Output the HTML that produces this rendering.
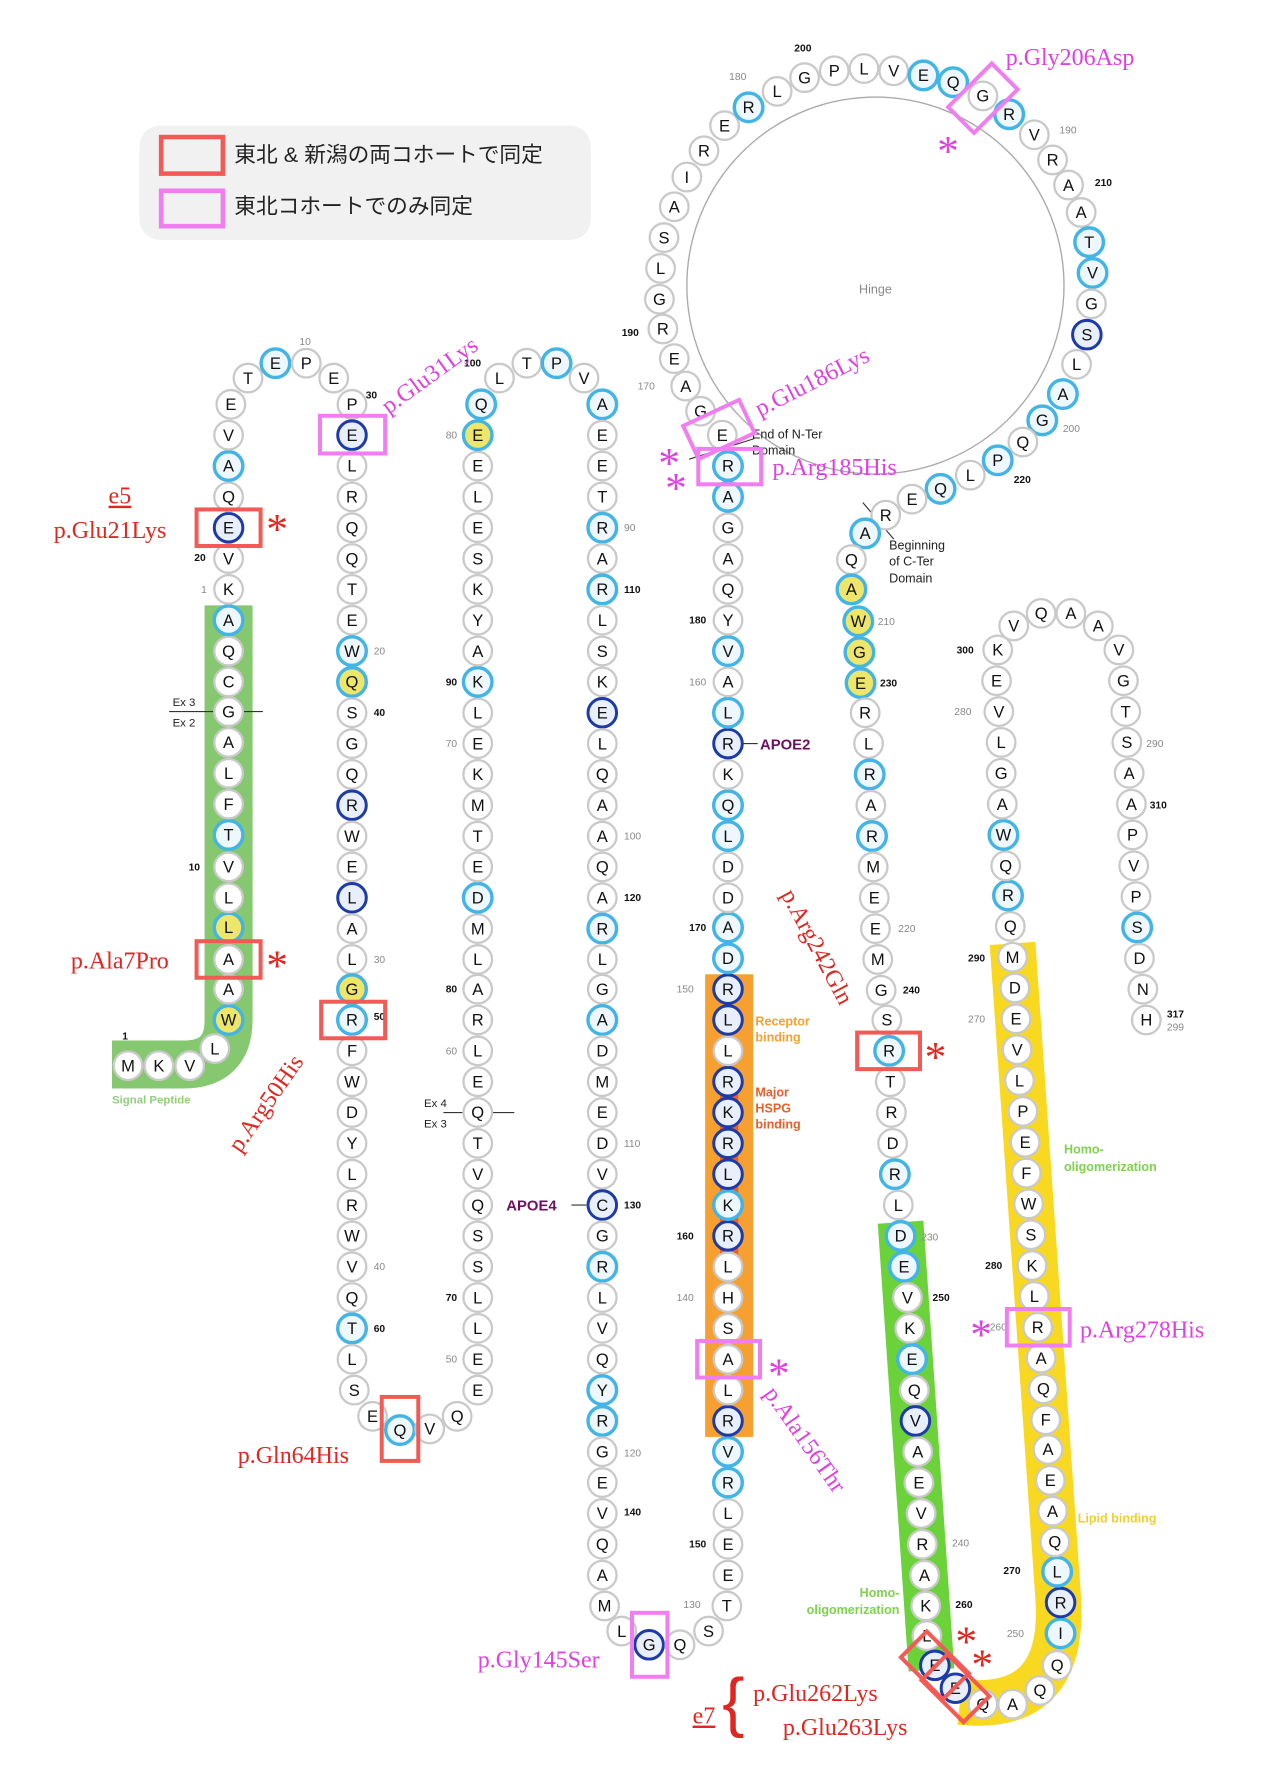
<!DOCTYPE html>
<html><head><meta charset="utf-8">
<style>
html,body{margin:0;padding:0;background:#fff;}
svg{display:block;}
g.r circle{r:12.5px;}
.w circle{fill:#fff;stroke:#c9c9c9;stroke-width:2;}
.b circle{fill:#eef8fc;stroke:#43b4e6;stroke-width:3;}
.d circle{fill:#e8eefa;stroke:#1c3aa8;stroke-width:2.6;}
.y circle{fill:#eee66a;stroke:#43b4e6;stroke-width:3;}
g text{font-family:"Liberation Sans",sans-serif;font-size:14.5px;text-anchor:middle;fill:#111;}
.n{font-family:"Liberation Sans",sans-serif;font-size:9px;fill:#888;}
.nb{font-family:"Liberation Sans",sans-serif;font-size:9px;fill:#111;font-weight:bold;}
.red{font-family:"Liberation Serif",serif;font-size:21px;fill:#e0261e;}
.pink{font-family:"Liberation Serif",serif;font-size:21px;fill:#e040e0;}
.sm{font-family:"Liberation Sans",sans-serif;font-size:11px;fill:#222;}
</style></head><body>
<svg width="1280" height="1791" viewBox="0 0 1120 1568" preserveAspectRatio="none" xmlns="http://www.w3.org/2000/svg">
<rect width="1141" height="1597" fill="#fff"/>
<!-- legend -->
<rect x="122" y="110" width="395" height="100" rx="18" fill="#f1f1f1"/>
<rect x="141" y="120" width="54" height="32" fill="none" stroke="#f25a55" stroke-width="4"/>
<rect x="141" y="167" width="54" height="31" fill="none" stroke="#f07ef0" stroke-width="4"/>
<text x="205" y="142" style="font-family:'Liberation Sans','Noto Sans CJK JP',sans-serif;font-size:19px;fill:#222">東北 &amp; 新潟の両コホートで同定</text>
<text x="205" y="187" style="font-family:'Liberation Sans','Noto Sans CJK JP',sans-serif;font-size:19px;fill:#222">東北コホートでのみ同定</text>
<!-- hinge -->
<circle cx="766" cy="250" r="165" fill="none" stroke="#aaa" stroke-width="1.2"/>
<text x="766" y="257" class="n" style="font-size:11px;text-anchor:middle">Hinge</text>
<!-- bands -->
<path d="M200,530 L200,893 Q200,932 160,932 L98,932" fill="none" stroke="#86c870" stroke-width="42"/>
<rect x="617" y="853" width="42" height="405" fill="#f5a030"/>
<rect x="630" y="940" width="16" height="180" fill="#e8602a"/>
<path d="M788,1070 L815,1462" fill="none" stroke="#6cd23a" stroke-width="40"/>
<path d="M886,826 L926,1400 Q932,1500 840,1490" fill="none" stroke="#f8d820" stroke-width="40"/>
<!-- lines -->
<line x1="148" y1="623" x2="230" y2="623" stroke="#333" stroke-width="1"/>
<line x1="388" y1="974" x2="450" y2="974" stroke="#333" stroke-width="1"/>
<line x1="650" y1="651" x2="663" y2="651" stroke="#333"/>
<line x1="513" y1="1055" x2="500" y2="1055" stroke="#333"/>
<line x1="603" y1="402" x2="660" y2="384" stroke="#333"/>
<line x1="755" y1="440" x2="782" y2="472" stroke="#333"/>
<!-- residues -->
<g class="r w" transform="translate(112,933)"><circle/><text y="5">M</text></g>
<g class="r w" transform="translate(139,933)"><circle/><text y="5">K</text></g>
<g class="r w" transform="translate(166,933)"><circle/><text y="5">V</text></g>
<g class="r w" transform="translate(188,918)"><circle/><text y="5">L</text></g>
<g class="r y" transform="translate(200,893)"><circle/><text y="5">W</text></g>
<g class="r w" transform="translate(200,866)"><circle/><text y="5">A</text></g>
<g class="r w" transform="translate(200,840)"><circle/><text y="5">A</text></g>
<g class="r y" transform="translate(200,812)"><circle/><text y="5">L</text></g>
<g class="r w" transform="translate(200,786)"><circle/><text y="5">L</text></g>
<g class="r w" transform="translate(200,759)"><circle/><text y="5">V</text></g>
<g class="r b" transform="translate(200,731)"><circle/><text y="5">T</text></g>
<g class="r w" transform="translate(200,704)"><circle/><text y="5">F</text></g>
<g class="r w" transform="translate(200,677)"><circle/><text y="5">L</text></g>
<g class="r w" transform="translate(200,650)"><circle/><text y="5">A</text></g>
<g class="r w" transform="translate(200,623)"><circle/><text y="5">G</text></g>
<g class="r w" transform="translate(200,597)"><circle/><text y="5">C</text></g>
<g class="r w" transform="translate(200,570)"><circle/><text y="5">Q</text></g>
<g class="r b" transform="translate(200,543)"><circle/><text y="5">A</text></g>
<g class="r w" transform="translate(200,516)"><circle/><text y="5">K</text></g>
<g class="r w" transform="translate(200,489)"><circle/><text y="5">V</text></g>
<g class="r d" transform="translate(200,462)"><circle/><text y="5">E</text></g>
<g class="r w" transform="translate(200,435)"><circle/><text y="5">Q</text></g>
<g class="r b" transform="translate(200,408)"><circle/><text y="5">A</text></g>
<g class="r w" transform="translate(200,381)"><circle/><text y="5">V</text></g>
<g class="r w" transform="translate(202,354)"><circle/><text y="5">E</text></g>
<g class="r w" transform="translate(217,331)"><circle/><text y="5">T</text></g>
<g class="r b" transform="translate(241,318)"><circle/><text y="5">E</text></g>
<g class="r w" transform="translate(268,318)"><circle/><text y="5">P</text></g>
<g class="r w" transform="translate(292,331)"><circle/><text y="5">E</text></g>
<g class="r w" transform="translate(308,354)"><circle/><text y="5">P</text></g>
<g class="r d" transform="translate(308,381)"><circle/><text y="5">E</text></g>
<g class="r w" transform="translate(308,408)"><circle/><text y="5">L</text></g>
<g class="r w" transform="translate(308,435)"><circle/><text y="5">R</text></g>
<g class="r w" transform="translate(308,462)"><circle/><text y="5">Q</text></g>
<g class="r w" transform="translate(308,489)"><circle/><text y="5">Q</text></g>
<g class="r w" transform="translate(308,516)"><circle/><text y="5">T</text></g>
<g class="r w" transform="translate(308,543)"><circle/><text y="5">E</text></g>
<g class="r b" transform="translate(308,570)"><circle/><text y="5">W</text></g>
<g class="r y" transform="translate(308,597)"><circle/><text y="5">Q</text></g>
<g class="r w" transform="translate(308,624)"><circle/><text y="5">S</text></g>
<g class="r w" transform="translate(308,651)"><circle/><text y="5">G</text></g>
<g class="r w" transform="translate(308,678)"><circle/><text y="5">Q</text></g>
<g class="r d" transform="translate(308,705)"><circle/><text y="5">R</text></g>
<g class="r w" transform="translate(308,732)"><circle/><text y="5">W</text></g>
<g class="r w" transform="translate(308,759)"><circle/><text y="5">E</text></g>
<g class="r d" transform="translate(308,786)"><circle/><text y="5">L</text></g>
<g class="r w" transform="translate(308,813)"><circle/><text y="5">A</text></g>
<g class="r w" transform="translate(308,840)"><circle/><text y="5">L</text></g>
<g class="r y" transform="translate(308,866)"><circle/><text y="5">G</text></g>
<g class="r b" transform="translate(308,893)"><circle/><text y="5">R</text></g>
<g class="r w" transform="translate(308,920)"><circle/><text y="5">F</text></g>
<g class="r w" transform="translate(308,947)"><circle/><text y="5">W</text></g>
<g class="r w" transform="translate(308,974)"><circle/><text y="5">D</text></g>
<g class="r w" transform="translate(308,1001)"><circle/><text y="5">Y</text></g>
<g class="r w" transform="translate(308,1028)"><circle/><text y="5">L</text></g>
<g class="r w" transform="translate(308,1055)"><circle/><text y="5">R</text></g>
<g class="r w" transform="translate(308,1082)"><circle/><text y="5">W</text></g>
<g class="r w" transform="translate(308,1109)"><circle/><text y="5">V</text></g>
<g class="r w" transform="translate(308,1136)"><circle/><text y="5">Q</text></g>
<g class="r b" transform="translate(308,1163)"><circle/><text y="5">T</text></g>
<g class="r w" transform="translate(308,1190)"><circle/><text y="5">L</text></g>
<g class="r w" transform="translate(310,1217)"><circle/><text y="5">S</text></g>
<g class="r w" transform="translate(326,1240)"><circle/><text y="5">E</text></g>
<g class="r b" transform="translate(350,1252)"><circle/><text y="5">Q</text></g>
<g class="r w" transform="translate(376,1251)"><circle/><text y="5">V</text></g>
<g class="r w" transform="translate(400,1240)"><circle/><text y="5">Q</text></g>
<g class="r w" transform="translate(418,1217)"><circle/><text y="5">E</text></g>
<g class="r w" transform="translate(418,1190)"><circle/><text y="5">E</text></g>
<g class="r w" transform="translate(418,1163)"><circle/><text y="5">L</text></g>
<g class="r w" transform="translate(418,1136)"><circle/><text y="5">L</text></g>
<g class="r w" transform="translate(418,1109)"><circle/><text y="5">S</text></g>
<g class="r w" transform="translate(418,1082)"><circle/><text y="5">S</text></g>
<g class="r w" transform="translate(418,1055)"><circle/><text y="5">Q</text></g>
<g class="r w" transform="translate(418,1028)"><circle/><text y="5">V</text></g>
<g class="r w" transform="translate(418,1001)"><circle/><text y="5">T</text></g>
<g class="r w" transform="translate(418,974)"><circle/><text y="5">Q</text></g>
<g class="r w" transform="translate(418,947)"><circle/><text y="5">E</text></g>
<g class="r w" transform="translate(418,920)"><circle/><text y="5">L</text></g>
<g class="r w" transform="translate(418,893)"><circle/><text y="5">R</text></g>
<g class="r w" transform="translate(418,866)"><circle/><text y="5">A</text></g>
<g class="r w" transform="translate(418,840)"><circle/><text y="5">L</text></g>
<g class="r w" transform="translate(418,813)"><circle/><text y="5">M</text></g>
<g class="r b" transform="translate(418,786)"><circle/><text y="5">D</text></g>
<g class="r w" transform="translate(418,759)"><circle/><text y="5">E</text></g>
<g class="r w" transform="translate(418,732)"><circle/><text y="5">T</text></g>
<g class="r w" transform="translate(418,705)"><circle/><text y="5">M</text></g>
<g class="r w" transform="translate(418,678)"><circle/><text y="5">K</text></g>
<g class="r w" transform="translate(418,651)"><circle/><text y="5">E</text></g>
<g class="r w" transform="translate(418,624)"><circle/><text y="5">L</text></g>
<g class="r b" transform="translate(418,597)"><circle/><text y="5">K</text></g>
<g class="r w" transform="translate(418,570)"><circle/><text y="5">A</text></g>
<g class="r w" transform="translate(418,543)"><circle/><text y="5">Y</text></g>
<g class="r w" transform="translate(418,516)"><circle/><text y="5">K</text></g>
<g class="r w" transform="translate(418,489)"><circle/><text y="5">S</text></g>
<g class="r w" transform="translate(418,462)"><circle/><text y="5">E</text></g>
<g class="r w" transform="translate(418,435)"><circle/><text y="5">L</text></g>
<g class="r w" transform="translate(418,408)"><circle/><text y="5">E</text></g>
<g class="r y" transform="translate(418,381)"><circle/><text y="5">E</text></g>
<g class="r b" transform="translate(421,354)"><circle/><text y="5">Q</text></g>
<g class="r w" transform="translate(437,331)"><circle/><text y="5">L</text></g>
<g class="r w" transform="translate(461,318)"><circle/><text y="5">T</text></g>
<g class="r b" transform="translate(487,318)"><circle/><text y="5">P</text></g>
<g class="r w" transform="translate(511,331)"><circle/><text y="5">V</text></g>
<g class="r b" transform="translate(527,354)"><circle/><text y="5">A</text></g>
<g class="r w" transform="translate(527,381)"><circle/><text y="5">E</text></g>
<g class="r w" transform="translate(527,408)"><circle/><text y="5">E</text></g>
<g class="r w" transform="translate(527,435)"><circle/><text y="5">T</text></g>
<g class="r b" transform="translate(527,462)"><circle/><text y="5">R</text></g>
<g class="r w" transform="translate(527,489)"><circle/><text y="5">A</text></g>
<g class="r b" transform="translate(527,516)"><circle/><text y="5">R</text></g>
<g class="r w" transform="translate(527,543)"><circle/><text y="5">L</text></g>
<g class="r w" transform="translate(527,570)"><circle/><text y="5">S</text></g>
<g class="r w" transform="translate(527,597)"><circle/><text y="5">K</text></g>
<g class="r d" transform="translate(527,624)"><circle/><text y="5">E</text></g>
<g class="r w" transform="translate(527,651)"><circle/><text y="5">L</text></g>
<g class="r w" transform="translate(527,678)"><circle/><text y="5">Q</text></g>
<g class="r w" transform="translate(527,705)"><circle/><text y="5">A</text></g>
<g class="r w" transform="translate(527,732)"><circle/><text y="5">A</text></g>
<g class="r w" transform="translate(527,759)"><circle/><text y="5">Q</text></g>
<g class="r w" transform="translate(527,786)"><circle/><text y="5">A</text></g>
<g class="r b" transform="translate(527,813)"><circle/><text y="5">R</text></g>
<g class="r w" transform="translate(527,840)"><circle/><text y="5">L</text></g>
<g class="r w" transform="translate(527,866)"><circle/><text y="5">G</text></g>
<g class="r b" transform="translate(527,893)"><circle/><text y="5">A</text></g>
<g class="r w" transform="translate(527,920)"><circle/><text y="5">D</text></g>
<g class="r w" transform="translate(527,947)"><circle/><text y="5">M</text></g>
<g class="r w" transform="translate(527,974)"><circle/><text y="5">E</text></g>
<g class="r w" transform="translate(527,1001)"><circle/><text y="5">D</text></g>
<g class="r w" transform="translate(527,1028)"><circle/><text y="5">V</text></g>
<g class="r d" transform="translate(527,1055)"><circle/><text y="5">C</text></g>
<g class="r w" transform="translate(527,1082)"><circle/><text y="5">G</text></g>
<g class="r b" transform="translate(527,1109)"><circle/><text y="5">R</text></g>
<g class="r w" transform="translate(527,1136)"><circle/><text y="5">L</text></g>
<g class="r w" transform="translate(527,1163)"><circle/><text y="5">V</text></g>
<g class="r w" transform="translate(527,1190)"><circle/><text y="5">Q</text></g>
<g class="r b" transform="translate(527,1217)"><circle/><text y="5">Y</text></g>
<g class="r b" transform="translate(527,1244)"><circle/><text y="5">R</text></g>
<g class="r w" transform="translate(527,1271)"><circle/><text y="5">G</text></g>
<g class="r w" transform="translate(527,1298)"><circle/><text y="5">E</text></g>
<g class="r w" transform="translate(527,1325)"><circle/><text y="5">V</text></g>
<g class="r w" transform="translate(527,1352)"><circle/><text y="5">Q</text></g>
<g class="r w" transform="translate(527,1379)"><circle/><text y="5">A</text></g>
<g class="r w" transform="translate(529,1406)"><circle/><text y="5">M</text></g>
<g class="r w" transform="translate(544,1428)"><circle/><text y="5">L</text></g>
<g class="r d" transform="translate(568,1440)"><circle/><text y="5">G</text></g>
<g class="r w" transform="translate(595,1440)"><circle/><text y="5">Q</text></g>
<g class="r w" transform="translate(620,1428)"><circle/><text y="5">S</text></g>
<g class="r w" transform="translate(636,1406)"><circle/><text y="5">T</text></g>
<g class="r w" transform="translate(637,1379)"><circle/><text y="5">E</text></g>
<g class="r w" transform="translate(637,1352)"><circle/><text y="5">E</text></g>
<g class="r w" transform="translate(637,1325)"><circle/><text y="5">L</text></g>
<g class="r b" transform="translate(637,1298)"><circle/><text y="5">R</text></g>
<g class="r b" transform="translate(637,1271)"><circle/><text y="5">V</text></g>
<g class="r d" transform="translate(637,1244)"><circle/><text y="5">R</text></g>
<g class="r w" transform="translate(637,1217)"><circle/><text y="5">L</text></g>
<g class="r w" transform="translate(637,1190)"><circle/><text y="5">A</text></g>
<g class="r w" transform="translate(637,1163)"><circle/><text y="5">S</text></g>
<g class="r w" transform="translate(637,1136)"><circle/><text y="5">H</text></g>
<g class="r w" transform="translate(637,1109)"><circle/><text y="5">L</text></g>
<g class="r d" transform="translate(637,1082)"><circle/><text y="5">R</text></g>
<g class="r b" transform="translate(637,1055)"><circle/><text y="5">K</text></g>
<g class="r d" transform="translate(637,1028)"><circle/><text y="5">L</text></g>
<g class="r d" transform="translate(637,1001)"><circle/><text y="5">R</text></g>
<g class="r d" transform="translate(637,974)"><circle/><text y="5">K</text></g>
<g class="r d" transform="translate(637,947)"><circle/><text y="5">R</text></g>
<g class="r w" transform="translate(637,920)"><circle/><text y="5">L</text></g>
<g class="r d" transform="translate(637,893)"><circle/><text y="5">L</text></g>
<g class="r d" transform="translate(637,866)"><circle/><text y="5">R</text></g>
<g class="r b" transform="translate(637,839)"><circle/><text y="5">D</text></g>
<g class="r b" transform="translate(637,812)"><circle/><text y="5">A</text></g>
<g class="r w" transform="translate(637,786)"><circle/><text y="5">D</text></g>
<g class="r w" transform="translate(637,759)"><circle/><text y="5">D</text></g>
<g class="r b" transform="translate(637,732)"><circle/><text y="5">L</text></g>
<g class="r b" transform="translate(637,705)"><circle/><text y="5">Q</text></g>
<g class="r w" transform="translate(637,678)"><circle/><text y="5">K</text></g>
<g class="r d" transform="translate(637,651)"><circle/><text y="5">R</text></g>
<g class="r b" transform="translate(637,624)"><circle/><text y="5">L</text></g>
<g class="r w" transform="translate(637,597)"><circle/><text y="5">A</text></g>
<g class="r b" transform="translate(637,570)"><circle/><text y="5">V</text></g>
<g class="r w" transform="translate(637,543)"><circle/><text y="5">Y</text></g>
<g class="r w" transform="translate(637,516)"><circle/><text y="5">Q</text></g>
<g class="r w" transform="translate(637,489)"><circle/><text y="5">A</text></g>
<g class="r w" transform="translate(637,462)"><circle/><text y="5">G</text></g>
<g class="r b" transform="translate(637,435)"><circle/><text y="5">A</text></g>
<g class="r b" transform="translate(637,408)"><circle/><text y="5">R</text></g>
<g class="r w" transform="translate(632,381)"><circle/><text y="5">E</text></g>
<g class="r w" transform="translate(613,360)"><circle/><text y="5">G</text></g>
<g class="r w" transform="translate(600,338)"><circle/><text y="5">A</text></g>
<g class="r w" transform="translate(590,314)"><circle/><text y="5">E</text></g>
<g class="r w" transform="translate(580,288)"><circle/><text y="5">R</text></g>
<g class="r w" transform="translate(577,262)"><circle/><text y="5">G</text></g>
<g class="r w" transform="translate(578,235)"><circle/><text y="5">L</text></g>
<g class="r w" transform="translate(581,208)"><circle/><text y="5">S</text></g>
<g class="r w" transform="translate(590,181)"><circle/><text y="5">A</text></g>
<g class="r w" transform="translate(601,155)"><circle/><text y="5">I</text></g>
<g class="r w" transform="translate(616,132)"><circle/><text y="5">R</text></g>
<g class="r w" transform="translate(634,110)"><circle/><text y="5">E</text></g>
<g class="r b" transform="translate(655,94)"><circle/><text y="5">R</text></g>
<g class="r w" transform="translate(680,80)"><circle/><text y="5">L</text></g>
<g class="r w" transform="translate(704,68)"><circle/><text y="5">G</text></g>
<g class="r w" transform="translate(730,62)"><circle/><text y="5">P</text></g>
<g class="r w" transform="translate(756,60)"><circle/><text y="5">L</text></g>
<g class="r w" transform="translate(782,62)"><circle/><text y="5">V</text></g>
<g class="r b" transform="translate(808,66)"><circle/><text y="5">E</text></g>
<g class="r b" transform="translate(834,72)"><circle/><text y="5">Q</text></g>
<g class="r w" transform="translate(860,84)"><circle/><text y="5">G</text></g>
<g class="r b" transform="translate(883,100)"><circle/><text y="5">R</text></g>
<g class="r w" transform="translate(905,118)"><circle/><text y="5">V</text></g>
<g class="r w" transform="translate(921,140)"><circle/><text y="5">R</text></g>
<g class="r w" transform="translate(935,162)"><circle/><text y="5">A</text></g>
<g class="r w" transform="translate(946,186)"><circle/><text y="5">A</text></g>
<g class="r b" transform="translate(953,212)"><circle/><text y="5">T</text></g>
<g class="r b" transform="translate(956,239)"><circle/><text y="5">V</text></g>
<g class="r w" transform="translate(955,266)"><circle/><text y="5">G</text></g>
<g class="r d" transform="translate(951,293)"><circle/><text y="5">S</text></g>
<g class="r w" transform="translate(942,319)"><circle/><text y="5">L</text></g>
<g class="r b" transform="translate(930,345)"><circle/><text y="5">A</text></g>
<g class="r b" transform="translate(912,368)"><circle/><text y="5">G</text></g>
<g class="r w" transform="translate(895,387)"><circle/><text y="5">Q</text></g>
<g class="r b" transform="translate(873,403)"><circle/><text y="5">P</text></g>
<g class="r w" transform="translate(849,416)"><circle/><text y="5">L</text></g>
<g class="r b" transform="translate(823,428)"><circle/><text y="5">Q</text></g>
<g class="r w" transform="translate(798,437)"><circle/><text y="5">E</text></g>
<g class="r w" transform="translate(775,451)"><circle/><text y="5">R</text></g>
<g class="r b" transform="translate(757,467)"><circle/><text y="5">A</text></g>
<g class="r w" transform="translate(745,490)"><circle/><text y="5">Q</text></g>
<g class="r y" transform="translate(745,516)"><circle/><text y="5">A</text></g>
<g class="r y" transform="translate(751,544)"><circle/><text y="5">W</text></g>
<g class="r y" transform="translate(752,571)"><circle/><text y="5">G</text></g>
<g class="r y" transform="translate(753,598)"><circle/><text y="5">E</text></g>
<g class="r w" transform="translate(757,624)"><circle/><text y="5">R</text></g>
<g class="r w" transform="translate(760,651)"><circle/><text y="5">L</text></g>
<g class="r b" transform="translate(761,678)"><circle/><text y="5">R</text></g>
<g class="r w" transform="translate(762,705)"><circle/><text y="5">A</text></g>
<g class="r b" transform="translate(763,732)"><circle/><text y="5">R</text></g>
<g class="r w" transform="translate(764,759)"><circle/><text y="5">M</text></g>
<g class="r w" transform="translate(765,786)"><circle/><text y="5">E</text></g>
<g class="r w" transform="translate(766,813)"><circle/><text y="5">E</text></g>
<g class="r w" transform="translate(768,840)"><circle/><text y="5">M</text></g>
<g class="r w" transform="translate(771,867)"><circle/><text y="5">G</text></g>
<g class="r w" transform="translate(776,893)"><circle/><text y="5">S</text></g>
<g class="r b" transform="translate(778,920)"><circle/><text y="5">R</text></g>
<g class="r w" transform="translate(779,947)"><circle/><text y="5">T</text></g>
<g class="r w" transform="translate(780,974)"><circle/><text y="5">R</text></g>
<g class="r w" transform="translate(781,1001)"><circle/><text y="5">D</text></g>
<g class="r b" transform="translate(783,1028)"><circle/><text y="5">R</text></g>
<g class="r w" transform="translate(786,1055)"><circle/><text y="5">L</text></g>
<g class="r b" transform="translate(788,1082)"><circle/><text y="5">D</text></g>
<g class="r b" transform="translate(791,1109)"><circle/><text y="5">E</text></g>
<g class="r w" transform="translate(794,1136)"><circle/><text y="5">V</text></g>
<g class="r w" transform="translate(796,1163)"><circle/><text y="5">K</text></g>
<g class="r b" transform="translate(798,1190)"><circle/><text y="5">E</text></g>
<g class="r w" transform="translate(800,1217)"><circle/><text y="5">Q</text></g>
<g class="r d" transform="translate(801,1244)"><circle/><text y="5">V</text></g>
<g class="r w" transform="translate(803,1271)"><circle/><text y="5">A</text></g>
<g class="r w" transform="translate(804,1298)"><circle/><text y="5">E</text></g>
<g class="r w" transform="translate(806,1325)"><circle/><text y="5">V</text></g>
<g class="r w" transform="translate(807,1352)"><circle/><text y="5">R</text></g>
<g class="r w" transform="translate(809,1379)"><circle/><text y="5">A</text></g>
<g class="r w" transform="translate(810,1406)"><circle/><text y="5">K</text></g>
<g class="r w" transform="translate(811,1432)"><circle/><text y="5">L</text></g>
<g class="r d" transform="translate(818,1458)"><circle/><text y="5">E</text></g>
<g class="r d" transform="translate(836,1478)"><circle/><text y="5">E</text></g>
<g class="r w" transform="translate(860,1492)"><circle/><text y="5">Q</text></g>
<g class="r w" transform="translate(886,1492)"><circle/><text y="5">A</text></g>
<g class="r w" transform="translate(910,1480)"><circle/><text y="5">Q</text></g>
<g class="r w" transform="translate(925,1458)"><circle/><text y="5">Q</text></g>
<g class="r b" transform="translate(928,1430)"><circle/><text y="5">I</text></g>
<g class="r d" transform="translate(928,1403)"><circle/><text y="5">R</text></g>
<g class="r b" transform="translate(925,1376)"><circle/><text y="5">L</text></g>
<g class="r w" transform="translate(923,1350)"><circle/><text y="5">Q</text></g>
<g class="r w" transform="translate(921,1323)"><circle/><text y="5">A</text></g>
<g class="r w" transform="translate(919,1296)"><circle/><text y="5">E</text></g>
<g class="r w" transform="translate(917,1269)"><circle/><text y="5">A</text></g>
<g class="r w" transform="translate(915,1243)"><circle/><text y="5">F</text></g>
<g class="r w" transform="translate(913,1216)"><circle/><text y="5">Q</text></g>
<g class="r w" transform="translate(911,1189)"><circle/><text y="5">A</text></g>
<g class="r w" transform="translate(908,1162)"><circle/><text y="5">R</text></g>
<g class="r w" transform="translate(905,1135)"><circle/><text y="5">L</text></g>
<g class="r w" transform="translate(903,1108)"><circle/><text y="5">K</text></g>
<g class="r w" transform="translate(902,1081)"><circle/><text y="5">S</text></g>
<g class="r w" transform="translate(900,1054)"><circle/><text y="5">W</text></g>
<g class="r w" transform="translate(898,1027)"><circle/><text y="5">F</text></g>
<g class="r w" transform="translate(897,1000)"><circle/><text y="5">E</text></g>
<g class="r w" transform="translate(895,973)"><circle/><text y="5">P</text></g>
<g class="r w" transform="translate(892,946)"><circle/><text y="5">L</text></g>
<g class="r w" transform="translate(890,919)"><circle/><text y="5">V</text></g>
<g class="r w" transform="translate(889,892)"><circle/><text y="5">E</text></g>
<g class="r w" transform="translate(888,865)"><circle/><text y="5">D</text></g>
<g class="r w" transform="translate(886,838)"><circle/><text y="5">M</text></g>
<g class="r w" transform="translate(884,811)"><circle/><text y="5">Q</text></g>
<g class="r b" transform="translate(882,784)"><circle/><text y="5">R</text></g>
<g class="r w" transform="translate(880,758)"><circle/><text y="5">Q</text></g>
<g class="r b" transform="translate(878,731)"><circle/><text y="5">W</text></g>
<g class="r w" transform="translate(877,704)"><circle/><text y="5">A</text></g>
<g class="r w" transform="translate(876,677)"><circle/><text y="5">G</text></g>
<g class="r w" transform="translate(876,650)"><circle/><text y="5">L</text></g>
<g class="r w" transform="translate(874,623)"><circle/><text y="5">V</text></g>
<g class="r w" transform="translate(872,596)"><circle/><text y="5">E</text></g>
<g class="r w" transform="translate(873,569)"><circle/><text y="5">K</text></g>
<g class="r w" transform="translate(887,548)"><circle/><text y="5">V</text></g>
<g class="r w" transform="translate(911,537)"><circle/><text y="5">Q</text></g>
<g class="r w" transform="translate(937,537)"><circle/><text y="5">A</text></g>
<g class="r w" transform="translate(961,548)"><circle/><text y="5">A</text></g>
<g class="r w" transform="translate(979,569)"><circle/><text y="5">V</text></g>
<g class="r w" transform="translate(983,596)"><circle/><text y="5">G</text></g>
<g class="r w" transform="translate(985,623)"><circle/><text y="5">T</text></g>
<g class="r w" transform="translate(986,650)"><circle/><text y="5">S</text></g>
<g class="r w" transform="translate(988,677)"><circle/><text y="5">A</text></g>
<g class="r w" transform="translate(990,704)"><circle/><text y="5">A</text></g>
<g class="r w" transform="translate(991,731)"><circle/><text y="5">P</text></g>
<g class="r w" transform="translate(992,758)"><circle/><text y="5">V</text></g>
<g class="r w" transform="translate(994,785)"><circle/><text y="5">P</text></g>
<g class="r b" transform="translate(995,812)"><circle/><text y="5">S</text></g>
<g class="r w" transform="translate(997,839)"><circle/><text y="5">D</text></g>
<g class="r w" transform="translate(1000,866)"><circle/><text y="5">N</text></g>
<g class="r w" transform="translate(1003,893)"><circle/><text y="5">H</text></g>

<!-- numbers -->
<text class="nb" x="107" y="910">1</text>
<text class="nb" x="165" y="762">10</text>
<text class="n" x="176" y="519">1</text>
<text class="nb" x="170" y="491">20</text>
<text class="n" x="262" y="302">10</text>
<text class="nb" x="320" y="349">30</text>
<text class="n" x="327" y="573">20</text>
<text class="nb" x="327" y="627">40</text>
<text class="n" x="327" y="843">30</text>
<text class="nb" x="327" y="893">50</text>
<text class="n" x="327" y="1112">40</text>
<text class="nb" x="327" y="1166">60</text>
<text class="nb" x="406" y="321">100</text>
<text class="n" x="390" y="384">80</text>
<text class="nb" x="390" y="600">90</text>
<text class="n" x="390" y="654">70</text>
<text class="nb" x="390" y="869">80</text>
<text class="n" x="390" y="923">60</text>
<text class="nb" x="390" y="1139">70</text>
<text class="n" x="390" y="1193">50</text>
<text class="n" x="546" y="465">90</text>
<text class="nb" x="546" y="519">110</text>
<text class="n" x="546" y="735">100</text>
<text class="nb" x="546" y="789">120</text>
<text class="n" x="546" y="1004">110</text>
<text class="nb" x="546" y="1058">130</text>
<text class="n" x="546" y="1275">120</text>
<text class="nb" x="546" y="1327">140</text>
<text class="n" x="598" y="1408">130</text>
<text class="nb" x="603" y="1355">150</text>
<text class="nb" x="603" y="546">180</text>
<text class="n" x="603" y="600">160</text>
<text class="nb" x="603" y="815">170</text>
<text class="n" x="592" y="869">150</text>
<text class="nb" x="592" y="1085">160</text>
<text class="n" x="592" y="1139">140</text>
<text class="n" x="558" y="341">170</text>
<text class="nb" x="544" y="294">190</text>
<text class="n" x="638" y="70">180</text>
<text class="nb" x="695" y="45">200</text>
<text class="n" x="927" y="117">190</text>
<text class="nb" x="958" y="163">210</text>
<text class="n" x="930" y="378">200</text>
<text class="nb" x="887" y="423">220</text>
<text class="n" x="768" y="547">210</text>
<text class="nb" x="770" y="601">230</text>
<text class="n" x="786" y="816">220</text>
<text class="nb" x="790" y="870">240</text>
<text class="n" x="806" y="1086">230</text>
<text class="nb" x="816" y="1139">250</text>
<text class="n" x="833" y="1354">240</text>
<text class="nb" x="836" y="1408">260</text>
<text class="n" x="881" y="1433">250</text>
<text class="nb" x="878" y="1378">270</text>
<text class="nb" x="862" y="1111">280</text>
<text class="n" x="866" y="1165">260</text>
<text class="nb" x="847" y="842">290</text>
<text class="n" x="847" y="895">270</text>
<text class="nb" x="837" y="572">300</text>
<text class="n" x="835" y="626">280</text>
<text class="n" x="1003" y="654">290</text>
<text class="nb" x="1006" y="708">310</text>
<text class="nb" x="1021" y="891">317</text>
<text class="n" x="1021" y="902">299</text>

<!-- annotation texts -->
<text class="sm" x="151" y="618" style="font-size:10px">Ex 3</text>
<text class="sm" x="151" y="636" style="font-size:10px">Ex 2</text>
<text class="sm" x="371" y="969" style="font-size:10px">Ex 4</text>
<text class="sm" x="371" y="987" style="font-size:10px">Ex 3</text>
<text x="98" y="966" style="font-family:'Liberation Sans',sans-serif;font-size:10px;font-weight:bold;fill:#8fcf7c">Signal Peptide</text>
<text x="665" y="656" style="font-family:'Liberation Sans',sans-serif;font-size:13px;font-weight:bold;fill:#6e1060">APOE2</text>
<text x="443" y="1060" style="font-family:'Liberation Sans',sans-serif;font-size:13px;font-weight:bold;fill:#6e1060">APOE4</text>
<text x="661" y="898" style="font-family:'Liberation Sans',sans-serif;font-size:11px;font-weight:bold;fill:#f5a030">Receptor</text>
<text x="661" y="912" style="font-family:'Liberation Sans',sans-serif;font-size:11px;font-weight:bold;fill:#f5a030">binding</text>
<text x="661" y="960" style="font-family:'Liberation Sans',sans-serif;font-size:11px;font-weight:bold;fill:#e8602a">Major</text>
<text x="661" y="974" style="font-family:'Liberation Sans',sans-serif;font-size:11px;font-weight:bold;fill:#e8602a">HSPG</text>
<text x="661" y="988" style="font-family:'Liberation Sans',sans-serif;font-size:11px;font-weight:bold;fill:#e8602a">binding</text>
<text x="931" y="1010" style="font-family:'Liberation Sans',sans-serif;font-size:11px;font-weight:bold;fill:#7ed24e">Homo-</text>
<text x="931" y="1025" style="font-family:'Liberation Sans',sans-serif;font-size:11px;font-weight:bold;fill:#7ed24e">oligomerization</text>
<text x="787" y="1398" style="font-family:'Liberation Sans',sans-serif;font-size:11px;font-weight:bold;fill:#7ed24e;text-anchor:end">Homo-</text>
<text x="787" y="1413" style="font-family:'Liberation Sans',sans-serif;font-size:11px;font-weight:bold;fill:#7ed24e;text-anchor:end">oligomerization</text>
<text x="943" y="1333" style="font-family:'Liberation Sans',sans-serif;font-size:11px;font-weight:bold;fill:#f0d030">Lipid binding</text>
<text class="sm" x="658" y="384">End of N-Ter</text>
<text class="sm" x="658" y="398">Domain</text>
<text class="sm" x="778" y="481">Beginning</text>
<text class="sm" x="778" y="495">of C-Ter</text>
<text class="sm" x="778" y="510">Domain</text>

<!-- mutation boxes -->
<g fill="none" stroke-width="3.5">
<rect x="172" y="446" width="56" height="32" stroke="#f25a55"/>
<rect x="172" y="824" width="56" height="32" stroke="#f25a55"/>
<rect x="281" y="877" width="56" height="32" stroke="#f25a55"/>
<rect x="334" y="1223" width="32" height="56" stroke="#f25a55"/>
<rect x="750" y="904" width="55" height="32" stroke="#f25a55"/>
<rect x="280" y="364" width="57" height="33" stroke="#f07ef0"/>
<rect x="611" y="393" width="55" height="31" stroke="#f07ef0"/>
<rect x="610" y="1174" width="55" height="32" stroke="#f07ef0"/>
<rect x="553" y="1412" width="31" height="56" stroke="#f07ef0"/>
<rect x="881" y="1146" width="55" height="32" stroke="#f07ef0"/>
<rect x="-27" y="-16" width="54" height="32" stroke="#f07ef0" transform="translate(629,376) rotate(-25)"/>
<rect x="-27" y="-16" width="54" height="32" stroke="#f07ef0" transform="translate(860,86) rotate(-45)"/>
<rect x="-26" y="-16" width="52" height="32" stroke="#f25a55" transform="translate(818,1458) rotate(45)"/>
<rect x="-26" y="-16" width="52" height="32" stroke="#f25a55" transform="translate(836,1478) rotate(45)"/>
</g>

<!-- mutation labels -->
<text class="red" x="95" y="441" style="text-decoration:underline">e5</text>
<text class="red" x="47" y="471">p.Glu21Lys</text>
<text class="red" x="233" y="476" style="font-size:38px">*</text>
<text class="red" x="62" y="848">p.Ala7Pro</text>
<text class="red" x="233" y="858" style="font-size:38px">*</text>
<text class="red" x="0" y="0" transform="translate(210,1010) rotate(-55)">p.Arg50His</text>
<text class="red" x="208" y="1281">p.Gln64His</text>
<text class="red" x="0" y="0" transform="translate(683,783) rotate(62)">p.Arg242Gln</text>
<text class="red" x="809" y="938" style="font-size:38px">*</text>
<text class="red" x="836" y="1450" style="font-size:38px">*</text>
<text class="red" x="850" y="1470" style="font-size:38px">*</text>
<text class="red" x="606" y="1509" style="text-decoration:underline">e7</text>
<text class="red" x="632" y="1510" style="font-size:58px;font-family:'Liberation Sans',sans-serif;font-weight:300">{</text>
<text class="red" x="659" y="1489">p.Glu262Lys</text>
<text class="red" x="685" y="1519">p.Glu263Lys</text>
<text class="pink" x="0" y="0" transform="translate(340,363) rotate(-36)">p.Glu31Lys</text>
<text class="pink" x="0" y="0" transform="translate(665,365) rotate(-27)">p.Glu186Lys</text>
<text class="pink" x="676" y="416">p.Arg185His</text>
<text class="pink" x="576" y="418" style="font-size:38px">*</text>
<text class="pink" x="582" y="440" style="font-size:38px">*</text>
<text class="pink" x="880" y="57">p.Gly206Asp</text>
<text class="pink" x="820" y="145" style="font-size:38px">*</text>
<text class="pink" x="672" y="1215" style="font-size:38px">*</text>
<text class="pink" x="0" y="0" transform="translate(668,1220) rotate(55)">p.Ala156Thr</text>
<text class="pink" x="418" y="1460">p.Gly145Ser</text>
<text class="pink" x="849" y="1181" style="font-size:38px">*</text>
<text class="pink" x="945" y="1171">p.Arg278His</text>
</svg>
</body></html>
